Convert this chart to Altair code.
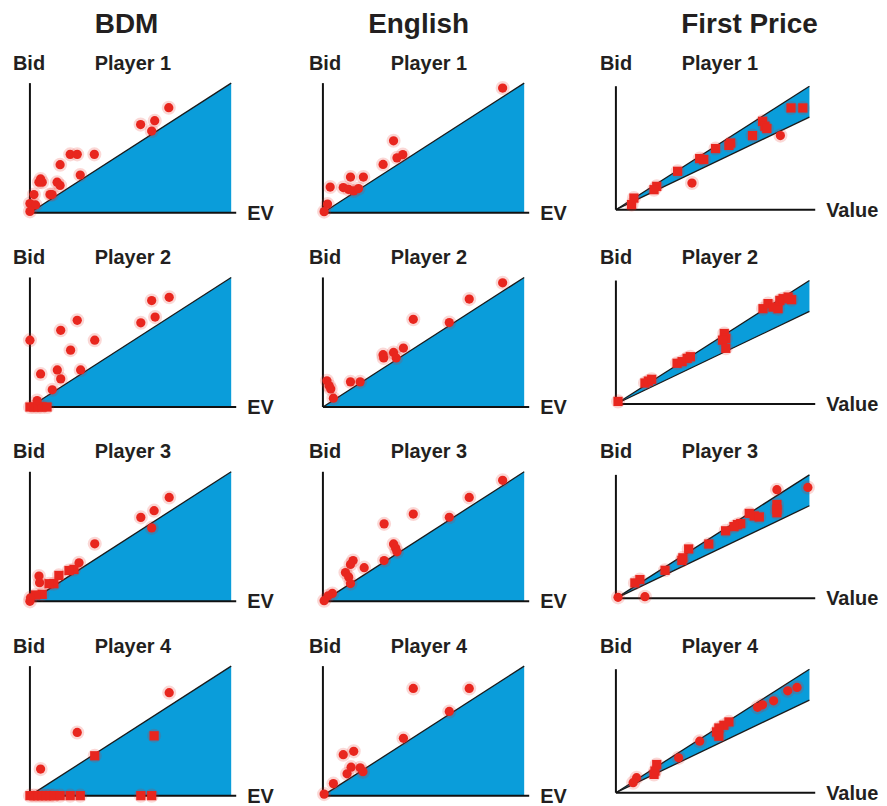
import altair as alt
import pandas as pd

# ---------------- labels ----------------
AUCTIONS = ["BDM", "English", "First Price"]
PLAYERS = ["Player 1", "Player 2", "Player 3", "Player 4"]
X_LABELS = ["EV", "EV", "Value"]
Y_LABEL = "Bid"

# ---------------- reference regions ----------------
REGION_X = [0, 1]
REGION_UPPER = [0, 1]
REGION_LOWER_TRIANGLE = [0, 0]
REGION_LOWER_FIRST_PRICE = [0, 0.75]

# ---------------- observed bids (x = value / EV, y = bid) ----------------
BDM_P1_X = [0.69, 0.55, 0.62, 0.605, 0.20, 0.235, 0.32, 0.15, 0.25, 0.053, 0.061, 0.045, 0.135, 0.15, 0.10, 0.11, 0.02, 0.0, 0.028, 0.0]
BDM_P1_Y = [0.81, 0.68, 0.71, 0.63, 0.45, 0.45, 0.45, 0.37, 0.29, 0.26, 0.235, 0.235, 0.235, 0.21, 0.14, 0.14, 0.14, 0.07, 0.06, 0.01]
BDM_P1_M = ["c"] * 20

BDM_P2_X = [0.0, 0.053, 0.136, 0.153, 0.111, 0.153, 0.235, 0.202, 0.322, 0.252, 0.551, 0.622, 0.605, 0.692, 0.0, 0.02, 0.04, 0.06, 0.085, 0.036]
BDM_P2_Y = [0.516, 0.255, 0.286, 0.217, 0.133, 0.592, 0.669, 0.439, 0.516, 0.286, 0.65, 0.694, 0.822, 0.847, 0.0, 0.0, 0.0, 0.0, 0.0, 0.05]
BDM_P2_M = ["c"] * 14 + ["s", "s", "s", "s", "s", "c"]

BDM_P3_X = [0.692, 0.551, 0.617, 0.605, 0.322, 0.244, 0.219, 0.194, 0.144, 0.119, 0.095, 0.045, 0.048, 0.061, 0.028, 0.0, 0.003]
BDM_P3_Y = [0.802, 0.648, 0.70, 0.567, 0.444, 0.297, 0.246, 0.238, 0.20, 0.136, 0.136, 0.195, 0.144, 0.054, 0.049, 0.0, 0.027]
BDM_P3_M = ["c", "c", "c", "c", "c", "c", "s", "s", "s", "s", "s", "c", "c", "s", "s", "c", "c"]

BDM_P4_X = [0.692, 0.235, 0.617, 0.322, 0.053, 0.0, 0.02, 0.04, 0.06, 0.08, 0.10, 0.12, 0.15, 0.20, 0.25, 0.551, 0.605]
BDM_P4_Y = [0.795, 0.488, 0.462, 0.308, 0.205, 0, 0, 0, 0, 0, 0, 0, 0, 0, 0, 0, 0]
BDM_P4_M = ["c", "c", "s", "s", "c"] + ["s"] * 12

ENG_P1_X = [0.893, 0.351, 0.368, 0.397, 0.299, 0.137, 0.201, 0.036, 0.101, 0.128, 0.153, 0.177, 0.023, 0.006]
ENG_P1_Y = [0.962, 0.555, 0.423, 0.448, 0.372, 0.275, 0.275, 0.198, 0.194, 0.179, 0.168, 0.186, 0.066, 0.008]
ENG_P1_M = ["c"] * 14

ENG_P2_X = [0.893, 0.727, 0.449, 0.628, 0.299, 0.302, 0.351, 0.364, 0.40, 0.137, 0.185, 0.02, 0.031, 0.039, 0.052]
ENG_P2_Y = [0.959, 0.833, 0.677, 0.652, 0.404, 0.379, 0.421, 0.379, 0.455, 0.194, 0.194, 0.202, 0.164, 0.139, 0.068]
ENG_P2_M = ["c"] * 15

ENG_P3_X = [0.893, 0.727, 0.449, 0.628, 0.304, 0.351, 0.361, 0.368, 0.304, 0.205, 0.15, 0.137, 0.112, 0.128, 0.137, 0.047, 0.026, 0.006]
ENG_P3_Y = [0.934, 0.802, 0.674, 0.649, 0.598, 0.443, 0.412, 0.382, 0.315, 0.26, 0.315, 0.285, 0.222, 0.188, 0.137, 0.061, 0.043, 0.005]
ENG_P3_M = ["c"] * 18

ENG_P4_X = [0.449, 0.727, 0.628, 0.40, 0.101, 0.153, 0.14, 0.12, 0.185, 0.199, 0.052, 0.006]
ENG_P4_Y = [0.828, 0.828, 0.65, 0.443, 0.316, 0.342, 0.22, 0.169, 0.215, 0.185, 0.093, 0.012]
ENG_P4_M = ["c"] * 12

FP_P1_X = [0.905, 0.966, 0.758, 0.77, 0.78, 0.85, 0.706, 0.593, 0.584, 0.515, 0.433, 0.454, 0.319, 0.393, 0.211, 0.197, 0.093, 0.081]
FP_P1_Y = [0.824, 0.824, 0.716, 0.676, 0.657, 0.60, 0.60, 0.54, 0.521, 0.495, 0.414, 0.406, 0.311, 0.216, 0.189, 0.162, 0.094, 0.041]
FP_P1_M = ["s", "s", "s", "s", "s", "c", "s", "s", "s", "s", "s", "s", "s", "c", "s", "s", "s", "s"]

FP_P2_X = [0.76, 0.786, 0.812, 0.838, 0.847, 0.864, 0.89, 0.908, 0.56, 0.568, 0.551, 0.568, 0.316, 0.342, 0.368, 0.385, 0.15, 0.168, 0.185, 0.011]
FP_P2_Y = [0.772, 0.813, 0.785, 0.772, 0.839, 0.853, 0.866, 0.845, 0.571, 0.531, 0.517, 0.451, 0.33, 0.343, 0.37, 0.383, 0.17, 0.185, 0.2, 0.021]
FP_P2_M = ["s"] * 20

FP_P3_X = [0.992, 0.832, 0.832, 0.832, 0.832, 0.689, 0.715, 0.741, 0.628, 0.645, 0.61, 0.567, 0.48, 0.376, 0.346, 0.341, 0.254, 0.124, 0.098, 0.15, 0.011]
FP_P3_Y = [0.898, 0.88, 0.76, 0.72, 0.693, 0.688, 0.667, 0.659, 0.597, 0.605, 0.581, 0.547, 0.44, 0.40, 0.328, 0.307, 0.227, 0.152, 0.125, 0.013, 0.008]
FP_P3_M = ["c", "c", "s", "s", "s", "s", "s", "s", "s", "s", "s", "s", "s", "s", "s", "s", "s", "s", "s", "c", "c"]

FP_P4_X = [0.936, 0.888, 0.815, 0.758, 0.732, 0.584, 0.558, 0.532, 0.52, 0.532, 0.433, 0.324, 0.211, 0.202, 0.197, 0.107, 0.089]
FP_P4_Y = [0.852, 0.825, 0.744, 0.712, 0.691, 0.573, 0.546, 0.524, 0.492, 0.457, 0.417, 0.282, 0.228, 0.175, 0.148, 0.121, 0.081]
FP_P4_M = ["c", "c", "c", "c", "c", "s", "s", "s", "s", "s", "c", "c", "s", "s", "s", "c", "c"]

PANELS = [
    [(BDM_P1_X, BDM_P1_Y, BDM_P1_M), (ENG_P1_X, ENG_P1_Y, ENG_P1_M), (FP_P1_X, FP_P1_Y, FP_P1_M)],
    [(BDM_P2_X, BDM_P2_Y, BDM_P2_M), (ENG_P2_X, ENG_P2_Y, ENG_P2_M), (FP_P2_X, FP_P2_Y, FP_P2_M)],
    [(BDM_P3_X, BDM_P3_Y, BDM_P3_M), (ENG_P3_X, ENG_P3_Y, ENG_P3_M), (FP_P3_X, FP_P3_Y, FP_P3_M)],
    [(BDM_P4_X, BDM_P4_Y, BDM_P4_M), (ENG_P4_X, ENG_P4_Y, ENG_P4_M), (FP_P4_X, FP_P4_Y, FP_P4_M)],
]

# ---------------- styles ----------------
BLUE = "#0A9DDA"
RED = "#E8261E"
FONT = "Liberation Sans"
HEIGHTS = [130, 130, 127]
WIDTHS = [207, 207, 200]
XMAX = [1.025, 1.025, 1.03]
YMAX = [1.0, 1.0, 1.025]
BID_DX = [-17, -14, -16]
PLAYER_DX = [65, 68, 66]
COLTITLE_DX = [97, 96, 134]


def label(text, x, y, size, align="left"):
    return alt.Chart(pd.DataFrame({"t": [text]})).mark_text(
        font=FONT, fontWeight="bold", fontSize=size, color="#231F20",
        align=align, baseline="alphabetic"
    ).encode(x=alt.value(x), y=alt.value(y), text="t:N")


def panel(ci, ri):
    xs, ys, ms = PANELS[ri][ci]
    fp = ci == 2
    W = WIDTHS[ci]
    H = HEIGHTS[ci]
    xsc = alt.Scale(domain=[0, XMAX[ci]], nice=False, zero=False)
    ysc = alt.Scale(domain=[0, YMAX[ci]], nice=False, zero=False)
    region = pd.DataFrame({
        "x": REGION_X,
        "hi": REGION_UPPER,
        "lo": REGION_LOWER_FIRST_PRICE if fp else REGION_LOWER_TRIANGLE,
    })
    area = alt.Chart(region).mark_area(color=BLUE, opacity=1).encode(
        x=alt.X("x:Q", scale=xsc, axis=None),
        y=alt.Y("hi:Q", scale=ysc, axis=None),
        y2="lo:Q",
    )
    edge_hi = alt.Chart(region).mark_line(color="#1a1a1a", strokeWidth=1.3).encode(x="x:Q", y="hi:Q")
    layers = [area, edge_hi]
    if fp:
        layers.append(alt.Chart(region).mark_line(color="#1a1a1a", strokeWidth=1.3).encode(x="x:Q", y="lo:Q"))
    one = pd.DataFrame({"k": [0]})
    yaxis = alt.Chart(one).mark_rule(color="#111", strokeWidth=2).encode(
        x=alt.datum(0), y=alt.datum(0), y2=alt.datum(1))
    xaxis = alt.Chart(one).mark_rule(color="#111", strokeWidth=2).encode(
        x=alt.datum(0), x2=alt.datum(XMAX[ci]), y=alt.datum(0))
    layers += [yaxis, xaxis]
    pts = pd.DataFrame({"x": xs, "y": ys, "m": ms})
    shape = alt.Shape("m:N", scale=alt.Scale(domain=["c", "s"], range=["circle", "square"]), legend=None)
    halo = alt.Chart(pts).mark_point(filled=True, color=RED, opacity=0.18, size=200, shape="circle").encode(
        x="x:Q", y="y:Q")
    dots = alt.Chart(pts).mark_point(filled=True, color=RED, opacity=1, size=86, strokeWidth=0).encode(
        x="x:Q", y="y:Q", shape=shape)
    layers += [halo, dots]
    layers.append(label(Y_LABEL, BID_DX[ci], -13.5, 20))
    layers.append(label(PLAYERS[ri], PLAYER_DX[ci], -13.5, 20))
    layers.append(label(X_LABELS[ci], W + 11, H + 7, 20))
    if ri == 0:
        layers.append(label(AUCTIONS[ci], COLTITLE_DX[ci], -50, 28, align="center"))
    return alt.layer(*layers).properties(width=W, height=H)


rows = [alt.hconcat(*[panel(c, r) for c in range(3)], spacing=87, bounds="flush") for r in range(4)]
chart = alt.vconcat(*rows, spacing=195, bounds="flush").properties(
    padding={"left": 5, "top": 2, "right": 0, "bottom": 0}
).configure_view(stroke=None)

chart.save("out.html", embed_options={"renderer": "svg", "actions": False})
